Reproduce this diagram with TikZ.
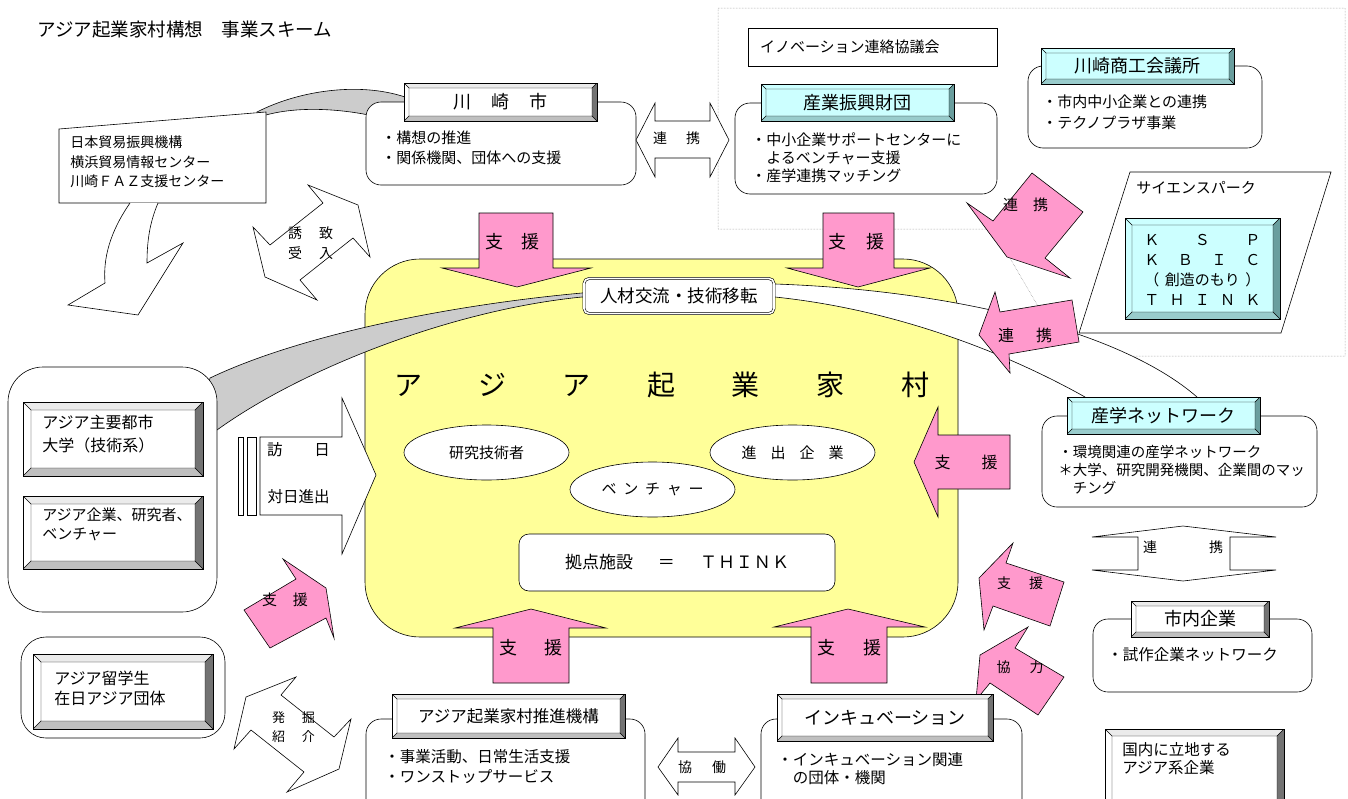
\documentclass[tikz,border=0pt]{standalone}
\usepackage{fontspec}
\setmainfont{Noto Sans CJK JP}
\usetikzlibrary{shapes.geometric}
\definecolor{pinkc}{HTML}{FF99CC}
\definecolor{yelc}{HTML}{FFFF99}
\definecolor{cyanc}{HTML}{CCFFFF}
\definecolor{cyanm}{HTML}{99CCCC}
\definecolor{cyand}{HTML}{6A9E9E}
\definecolor{bandc}{HTML}{CCCCCC}
\def\bevw{5pt}
\tikzset{
  fs/.style 2 args={font=\fontsize{#1}{#2}\selectfont},
  txt/.style={inner sep=0pt, align=left, anchor=west},
  lab/.style={inner sep=0pt},
  bevbase/.style n args={5}{draw=black, fill=#1, inner sep=0pt,
    path picture={
      \coordinate (pNW) at (path picture bounding box.north west);
      \coordinate (pNE) at (path picture bounding box.north east);
      \coordinate (pSW) at (path picture bounding box.south west);
      \coordinate (pSE) at (path picture bounding box.south east);
      \coordinate (qNW) at ([shift={(\bevw,-\bevw)}]pNW);
      \coordinate (qNE) at ([shift={(-\bevw,-\bevw)}]pNE);
      \coordinate (qSW) at ([shift={(\bevw,\bevw)}]pSW);
      \coordinate (qSE) at ([shift={(-\bevw,\bevw)}]pSE);
      \fill[#2] (pNW) -- (pNE) -- (qNE) -- (qNW) -- cycle;
      \fill[#3] (pNW) -- (qNW) -- (qSW) -- (pSW) -- cycle;
      \fill[#4] (pSW) -- (qSW) -- (qSE) -- (pSE) -- cycle;
      \fill[#5] (pNE) -- (pSE) -- (qSE) -- (qNE) -- cycle;
      \draw[line width=0.4pt] (qNW) rectangle (qSE) (pNW) -- (qNW) (pNE) -- (qNE) (pSW) -- (qSW) (pSE) -- (qSE);
    }},
  bwhite/.style={bevbase={white}{black!8}{white}{black!25}{black!55}},
  bcyan/.style={bevbase={cyanc}{cyanc}{cyanc}{cyanm}{cyand}},
  rbox/.style={draw, fill=white, rounded corners=15pt, inner sep=0pt},
  pk/.style={draw=black, fill=pinkc},
  wh/.style={draw=black, fill=white},
}
\begin{document}
\begin{tikzpicture}[x=1pt,y=-1pt,line width=0.6pt]
\useasboundingbox (0,0) rectangle (1348,798);
\clip (0,0) rectangle (1348,798);

% title
\node[txt, fs={18.5}{20}] (title) at (37,30) {アジア起業家村構想\hspace*{1em}事業スキーム};

% dotted region
\draw[densely dotted, black!50, line width=0.5pt] (718,8) -- (1345,8) -- (1345,356) -- (1067,356) -- (993,229) -- (718,229) -- cycle;

% gray band to Kawasaki
\filldraw[fill=bandc] (257,112) .. controls (300,90) and (360,82) .. (405,97) -- (405,125) .. controls (370,112) and (310,103) .. (266,115) -- cycle;

% JETRO box
\filldraw[wh] (59,129) -- (266,112) -- (266,203) -- (59,203) -- cycle;
\node[txt, fs={14}{19.5}] (jetro) at (70,162) {日本貿易振興機構\\横浜貿易情報センター\\川崎ＦＡＺ支援センター};
\filldraw[wh] (130,203) .. controls (110,232) and (103,258) .. (105,283) -- (68,305) -- (138,315) -- (183,243) -- (147,263) .. controls (147,240) and (150,222) .. (158,203);

% yuchi shape
\filldraw[wh] (308,185) -- (358,205) -- (370,257) -- (353,238) -- (300,280) -- (317,300) -- (265,277) -- (253,227) -- (270,245) -- (323,203) -- cycle;
\node[lab, fs={14}{16}] (yuchi) at (310.5,233) {\hbox to 45pt{誘\hfil 致}};
\node[lab, fs={14}{16}] (ukeire) at (310.5,253) {\hbox to 45pt{受\hfil 入}};

% hakkutsu shape
\filldraw[wh] (296,677) -- (246,697) -- (234,749) -- (251,730) -- (304,772) -- (287,792) -- (339,769) -- (351,719) -- (334,737) -- (281,695) -- cycle;
\node[lab, fs={13}{16}] (hakkutsu) at (293.5,718) {\hbox to 43pt{発\hfil 掘}};
\node[lab, fs={13}{16}] (shokai) at (293.5,737) {\hbox to 43pt{紹\hfil 介}};

% yellow village
\node[draw, fill=yelc, rounded corners=55pt, minimum width=593pt, minimum height=378pt, inner sep=0pt] (village) at (661.5,448) {};

% bands
\filldraw[fill=bandc] (600,290) -- (582,293) .. controls (450,305) and (300,335) .. (210,378) -- (200,420) -- (217,430) .. controls (300,370) and (450,310) .. (582,297) -- (600,300) -- cycle;
\filldraw[wh] (760,284) -- (775,284) .. controls (950,290) and (1120,330) .. (1197,397) -- (1197,412) -- (1085,412) -- (1085,397) .. controls (1010,355) and (900,310) .. (775,297) -- (760,297) -- cycle;

\node[fs={28}{30}, lab] (villageT) at (661.5,385) {\hbox to 535pt{ア\hfil ジ\hfil ア\hfil 起\hfil 業\hfil 家\hfil 村}};
\node[ellipse, draw, fill=white, minimum width=165pt, minimum height=55pt, fs={15}{16}] (kenkyu) at (486.5,452.5) {研究技術者};
\node[ellipse, draw, fill=white, minimum width=165pt, minimum height=55pt, fs={15}{16}] (shinshutsuK) at (792.5,452.5) {\hbox to 102pt{進\hfil 出\hfil 企\hfil 業}};
\node[ellipse, draw, fill=white, minimum width=165pt, minimum height=55pt, fs={15}{16}] (venture) at (652.5,489.5) {\hbox to 102pt{ベ\hfil ン\hfil チ\hfil ャ\hfil ー}};
\node[draw, fill=white, rounded corners=10pt, minimum width=316pt, minimum height=57pt, inner sep=0pt, fs={17}{20}] (think) at (677,562.5) {\hbox to 224pt{拠点施設\hfil ＝\hfil\hbox to 89pt{Ｔ\hfil Ｈ\hfil Ｉ\hfil Ｎ\hfil Ｋ}}};

% science park
\filldraw[wh] (1130,172) -- (1331,172) -- (1281,333) -- (1079,333) -- cycle;
\node[txt, fs={15}{18}] (sciencepark) at (1136,188) {サイエンスパーク};
\def\bevw{7pt}
\node[bcyan, minimum width=155pt, minimum height=101pt] (ksp) at (1202.5,268.5) {};
\def\bevw{5pt}
\node[txt, fs={15}{20}] (kspT) at (1144,270) {\hbox to 116pt{Ｋ\hfil Ｓ\hfil Ｐ}\\\hbox to 116pt{Ｋ\hfil Ｂ\hfil Ｉ\hfil Ｃ}\\\hbox to 116pt{（\hfil 創造のもり\hfil ）}\\\hbox to 116pt{Ｔ\hfil Ｈ\hfil Ｉ\hfil Ｎ\hfil Ｋ}};

% pink arrows
\filldraw[pk] (1032,173) -- (1083,212) -- (1045,258) -- (1070,278) -- (1007,257) -- (967,203) -- (993,221) -- cycle;
\node[lab, fs={15}{16}] (renkeiA) at (1025.5,205) {\hbox to 45pt{連\hfil 携}};
\filldraw[pk] (995,292) -- (1000,312) -- (1072,300) -- (1079,342) -- (1009,354) -- (1010,373) -- (979,335) -- cycle;
\node[lab, fs={16}{16}] (renkeiB) at (1025,335) {\hbox to 54pt{連\hfil 携}};
\filldraw[pk] (479,213) -- (553,213) -- (553,268) -- (591,268) -- (517,287) -- (442,268) -- (479,268) -- cycle;
\node[lab, fs={18}{18}] (shienA) at (512.5,242) {\hbox to 55pt{支\hfil 援}};
\filldraw[pk] (823,213) -- (894,213) -- (894,268) -- (930,268) -- (858,287) -- (787,268) -- (823,268) -- cycle;
\node[lab, fs={18}{18}] (shienB) at (856,242) {\hbox to 56pt{支\hfil 援}};
\filldraw[pk] (531,609) -- (606,628) -- (569,628) -- (569,683) -- (493,683) -- (493,628) -- (455,628) -- cycle;
\node[lab, fs={18}{18}] (shienC) at (530.5,648) {\hbox to 63pt{支\hfil 援}};
\filldraw[pk] (848,609) -- (925,627) -- (887,627) -- (887,683) -- (811,683) -- (811,627) -- (774,627) -- cycle;
\node[lab, fs={18}{18}] (shienD) at (849,648) {\hbox to 64pt{支\hfil 援}};
\filldraw[pk] (914,462) -- (938,407) -- (938,435) -- (1010,435) -- (1010,489) -- (938,489) -- (938,517) -- cycle;
\node[lab, fs={16}{16}] (shienE) at (966,462) {\hbox to 63pt{支\hfil 援}};
\filldraw[pk] (1013,543) -- (1006,563) -- (1064,582) -- (1050,626) -- (993,606) -- (984,630) -- (979,578) -- cycle;
\node[lab, fs={14}{16}] (shienF) at (1020,583) {\hbox to 46pt{支\hfil 援}};
\filldraw[pk] (1028,627) -- (1015,648) -- (1064,677) -- (1038,715) -- (990,683) -- (976,700) -- (980,655) -- cycle;
\node[lab, fs={14}{16}] (kyoryoku) at (1020,667) {\hbox to 47pt{協\hfil 力}};
\filldraw[pk] (283,559) -- (296,579) -- (244,610) -- (270,648) -- (326,618) -- (334,638) -- (326,588) -- cycle;
\node[lab, fs={15}{16}] (shienG) at (285,600) {\hbox to 46pt{支\hfil 援}};

% homon arrow
\draw[wh] (238,437) rectangle (243,515);
\draw[wh] (247,437) rectangle (256,515);
\filldraw[wh] (260,437) -- (342,437) -- (342,398) -- (376,475) -- (342,554) -- (342,515) -- (260,515) -- cycle;
\node[lab, fs={15.5}{16}] (homon) at (298.5,450) {\hbox to 63pt{訪\hfil 日}};
\node[lab, fs={15.5}{16}] (taijitsu) at (298.5,497) {対日進出};

% Kawasaki city
\node[rbox, minimum width=270pt, minimum height=83pt] (kawasaki) at (501,143.5) {};
\node[bwhite, minimum width=193pt, minimum height=38pt, fs={18}{20}] (kawasakiH) at (500.5,102) {\hbox to 95pt{川\hfil 崎\hfil 市}};
\node[txt, fs={15}{20}] (kawasakiT) at (381,148) {・構想の推進\\・関係機関、団体への支援};

% renkei double arrow
\filldraw[wh] (636,140) -- (655,103) -- (655,121) -- (710,121) -- (710,103) -- (729,140) -- (710,177) -- (710,158) -- (655,158) -- (655,177) -- cycle;
\node[lab, fs={14}{16}] (renkeiC) at (676.5,138) {\hbox to 47pt{連\hfil 携}};

% innovation council
\node[draw, fill=white, minimum width=249pt, minimum height=38pt, text width=225pt, align=left, fs={15}{18}] (inov) at (872.5,47) {イノベーション連絡協議会};

% sangyo shinko zaidan
\node[rbox, minimum width=262pt, minimum height=91pt] (zaidan) at (866,148.5) {};
\node[bcyan, minimum width=193pt, minimum height=37pt, fs={18}{20}] (zaidanH) at (857.5,102.5) {産業振興財団};
\node[txt, fs={15}{18}] (zaidanT) at (751,158) {・中小企業サポートセンターに\\\hspace*{1em}よるベンチャー支援\\・産学連携マッチング};

% chamber of commerce
\node[rbox, minimum width=234pt, minimum height=82pt] (cci) at (1145,107) {};
\node[bcyan, minimum width=193pt, minimum height=36pt, fs={18}{20}] (cciH) at (1137.5,66) {川崎商工会議所};
\node[txt, fs={15}{21}] (cciT) at (1042,112.5) {・市内中小企業との連携\\・テクノプラザ事業};

% sangaku network
\node[rbox, minimum width=275pt, minimum height=91pt] (sangaku) at (1179.5,461.5) {};
\node[bcyan, minimum width=193pt, minimum height=37pt, fs={18}{20}] (sangakuH) at (1163.5,415.5) {産学ネットワーク};
\node[txt, fs={14.5}{18}] (sangakuT) at (1058,470) {・環境関連の産学ネットワーク\\＊大学、研究開発機関、企業間のマッ\\\hspace*{1em}チング};

% renkei vertical white arrow
\filldraw[wh] (1092,537) -- (1183,526) -- (1276,537) -- (1230,537) -- (1230,570) -- (1276,570) -- (1183,581) -- (1092,570) -- (1138,570) -- (1138,537) -- cycle;
\node[lab, fs={14}{16}] (renkeiD) at (1183,547) {\hbox to 80pt{連\hfil 携}};

% city companies
\node[rbox, minimum width=219pt, minimum height=73pt] (shinai) at (1202.5,655.5) {};
\node[bwhite, minimum width=138pt, minimum height=36pt, fs={18}{20}] (shinaiH) at (1200,619) {市内企業};
\node[txt, fs={15.5}{18}] (shinaiT) at (1107,655) {・試作企業ネットワーク};

% domestic asian companies
\def\bevw{7pt}
\node[bwhite, minimum width=179pt, minimum height=82pt] (kokunai) at (1194.5,770) {};
\def\bevw{5pt}
\node[txt, fs={15.5}{18}] (kokunaiT) at (1122,759) {国内に立地する\\アジア系企業};

% incubation
\node[rbox, minimum width=261pt, minimum height=106pt] (incub) at (891.5,772) {};
\node[bwhite, minimum width=216pt, minimum height=47pt, fs={18}{20}] (incubH) at (885,717.5) {インキュベーション};
\node[txt, fs={15.5}{18}] (incubT) at (777,769) {・インキュベーション関連\\\hspace*{1em}の団体・機関};

% promotion organization
\node[rbox, minimum width=279pt, minimum height=106pt] (suishin) at (505.5,772) {};
\node[bwhite, minimum width=233pt, minimum height=44pt, fs={16.5}{20}] (suishinH) at (508.5,716) {アジア起業家村推進機構};
\node[txt, fs={15.5}{20}] (suishinT) at (384,767) {・事業活動、日常生活支援\\・ワンストップサービス};

% kyodo double arrow
\filldraw[wh] (658,767) -- (678,738) -- (678,752) -- (735,752) -- (735,738) -- (755,767) -- (735,795) -- (735,782) -- (678,782) -- (678,795) -- cycle;
\node[lab, fs={14}{16}] (kyodo) at (702,767) {\hbox to 48pt{協\hfil 働}};

% asia group
\node[draw, fill=white, rounded corners=35pt, minimum width=209pt, minimum height=245pt, inner sep=0pt] (asiaG) at (112.5,489.5) {};
\def\bevw{8pt}
\node[bwhite, minimum width=180pt, minimum height=74pt] (asiaU) at (113,439) {};
\node[bwhite, minimum width=180pt, minimum height=73pt] (asiaC) at (113,532.5) {};
\node[draw, fill=white, rounded corners=25pt, minimum width=204pt, minimum height=101pt, inner sep=0pt] (ryugakuG) at (123,687.5) {};
\node[bwhite, minimum width=180pt, minimum height=75pt] (ryugaku) at (123,691.5) {};
\def\bevw{5pt}
\node[txt, fs={16}{22}] (asiaUT) at (42,434) {アジア主要都市\\大学（技術系）};
\node[txt, fs={15}{19}] (asiaCT) at (42,524.5) {アジア企業、研究者、\\ベンチャー};
\node[txt, fs={16}{20}] (ryugakuT) at (54,688) {アジア留学生\\在日アジア団体};

% jinzai box
\node[draw, double, double distance=1.6pt, fill=white, rounded corners=5pt, minimum width=190pt, minimum height=35pt, inner sep=0pt, fs={17.5}{20}] (jinzai) at (679,296) {人材交流・技術移転};
\end{tikzpicture}
\end{document}
